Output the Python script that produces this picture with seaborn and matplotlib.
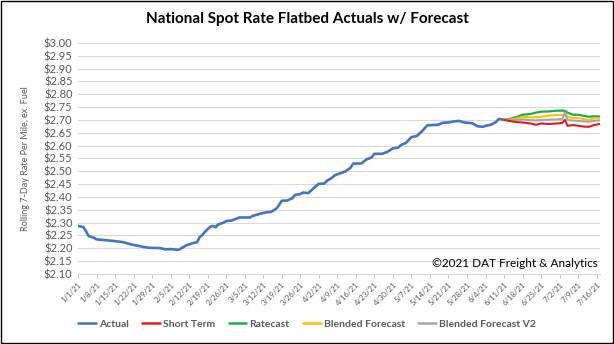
import datetime as dt

import matplotlib
matplotlib.use("Agg")
import matplotlib.pyplot as plt
from matplotlib.lines import Line2D
import pandas as pd
import seaborn as sns

# ---- data (days counted from 1 Jan 2021) ----
actual_days = [0, 2, 3, 4, 6, 7, 10, 14, 17, 19, 22, 25, 27, 31, 33, 35, 38, 39,
               41, 43, 45, 46, 47, 48, 50, 51, 52, 53, 55, 56, 58, 60, 61, 65,
               66, 69, 71, 73, 75, 76, 77, 79, 81, 82, 84, 85, 87, 88, 90, 91,
               93, 94, 96, 97, 99, 101, 103, 104, 107, 109, 111, 112, 115, 117,
               119, 121, 122, 124, 126, 128, 130, 132, 134, 136, 138, 140, 142,
               144, 146, 149, 151, 153, 154, 156, 158, 159, 161]
actual = [2.287, 2.283, 2.267, 2.248, 2.241, 2.235, 2.232, 2.228, 2.224, 2.218,
          2.211, 2.205, 2.202, 2.201, 2.196, 2.197, 2.194, 2.200, 2.212, 2.219,
          2.224, 2.244, 2.252, 2.265, 2.284, 2.287, 2.282, 2.293, 2.300, 2.306,
          2.308, 2.316, 2.320, 2.320, 2.326, 2.335, 2.340, 2.342, 2.355, 2.369,
          2.385, 2.386, 2.395, 2.408, 2.411, 2.417, 2.415, 2.424, 2.443, 2.451,
          2.452, 2.462, 2.475, 2.484, 2.492, 2.499, 2.514, 2.530, 2.530, 2.546,
          2.554, 2.568, 2.568, 2.576, 2.589, 2.592, 2.602, 2.611, 2.633, 2.637,
          2.656, 2.679, 2.680, 2.681, 2.689, 2.690, 2.694, 2.696, 2.690, 2.687,
          2.675, 2.673, 2.677, 2.681, 2.692, 2.704, 2.700]

forecast_days = [161, 164, 166, 168, 171, 173, 175, 178, 181, 183, 184, 185,
                 187, 189, 191, 193, 195, 197]
short_term = [2.700, 2.694, 2.691, 2.690, 2.686, 2.681, 2.686, 2.684, 2.686,
              2.688, 2.700, 2.677, 2.680, 2.677, 2.674, 2.673, 2.680, 2.684]
ratecast = [2.700, 2.706, 2.712, 2.720, 2.723, 2.728, 2.732, 2.733, 2.736,
            2.736, 2.735, 2.728, 2.720, 2.720, 2.716, 2.712, 2.714, 2.713]
blended = [2.700, 2.702, 2.706, 2.712, 2.710, 2.710, 2.712, 2.717, 2.719,
           2.719, 2.722, 2.712, 2.707, 2.707, 2.703, 2.700, 2.706, 2.707]
blended_v2 = [2.700, 2.698, 2.700, 2.702, 2.699, 2.698, 2.699, 2.701, 2.702,
              2.703, 2.729, 2.700, 2.697, 2.696, 2.694, 2.693, 2.696, 2.698]

series_names = ["Actual", "Short Term", "Ratecast", "Blended Forecast",
                "Blended Forecast V2"]
series_colors = ["#4472C4", "#E8171F", "#1DAA4B", "#FFC000", "#A5A5A5"]
y_ticks = [round(2.10 + 0.05 * i, 2) for i in range(19)]

start = dt.datetime(2021, 1, 1)


def to_dates(days):
    return [start + dt.timedelta(days=d) for d in days]


frames = [pd.DataFrame({"date": to_dates(actual_days), "rate": actual,
                        "series": "Actual"})]
for name, vals in zip(series_names[1:], [short_term, ratecast, blended, blended_v2]):
    frames.append(pd.DataFrame({"date": to_dates(forecast_days), "rate": vals,
                                "series": name}))
df = pd.concat(frames, ignore_index=True)

# ---- figure ----
sns.set_theme(style="white")
plt.rcParams["font.family"] = ["Lato", "DejaVu Sans"]

fig = plt.figure(figsize=(6.14, 3.44), dpi=100)
ax = fig.add_axes([0.127, 0.2035, 0.850, 0.672])

draw_order = ["Actual", "Ratecast", "Blended Forecast", "Blended Forecast V2",
              "Short Term"]
palette = dict(zip(series_names, series_colors))
widths = {"Actual": 1.9, "Short Term": 1.5, "Ratecast": 1.6,
          "Blended Forecast": 1.5, "Blended Forecast V2": 1.5}
for name in draw_order:
    sub = df[df["series"] == name]
    sns.lineplot(data=sub, x="date", y="rate", ax=ax, color=palette[name],
                 linewidth=widths[name], legend=False, estimator=None, sort=False)

ax.set_ylim(2.10, 3.00)
ax.set_xlim(start, start + dt.timedelta(days=197.2))
ax.set_yticks(y_ticks)
ax.set_yticklabels([f"${v:.2f}" for v in y_ticks], fontsize=8, color="#595959")
ax.yaxis.grid(True, color="#D9D9D9", linewidth=0.8)
ax.xaxis.grid(False)
ax.set_axisbelow(True)
for side in ["top", "right", "left"]:
    ax.spines[side].set_visible(False)
ax.spines["bottom"].set_color("#D9D9D9")
ax.spines["bottom"].set_linewidth(0.8)
ax.tick_params(axis="y", length=0, pad=4)

week_ticks = [start + dt.timedelta(days=7 * i) for i in range(29)]
ax.set_xticks(week_ticks)
ax.set_xticklabels([f"{d.month}/{d.day}/{d.strftime('%y')}" for d in week_ticks],
                   rotation=45, ha="right", rotation_mode="anchor",
                   fontsize=5.6, color="#595959")
ax.tick_params(axis="x", length=3, width=0.6, color="#BFBFBF", bottom=True,
               pad=2)

ax.set_xlabel("")
ax.set_ylabel("Rolling 7-Day Rate Per Mile, ex. Fuel", fontsize=6.5,
              color="#595959", labelpad=10)

ax.text(0.995, 0.02, "\u00a92021 DAT Freight & Analytics", transform=ax.transAxes,
        ha="right", va="bottom", fontsize=8.5, color="#000000")

fig.text(0.5, 0.945, "National Spot Rate Flatbed Actuals w/ Forecast",
         ha="center", va="center", fontsize=11, fontweight="bold", color="#000000")

handles = [Line2D([0], [0], color=c, linewidth=1.8) for c in series_colors]
leg = fig.legend(handles, series_names, loc="center", bbox_to_anchor=(0.5, 0.057),
                 ncol=5, frameon=False, fontsize=7.5, handlelength=1.7,
                 handletextpad=0.3, columnspacing=1.3)
for t in leg.get_texts():
    t.set_color("#595959")
    t.set_fontweight("bold")

# outer border
fig.patches.append(plt.Rectangle((0.001, 0.002), 0.997, 0.995, transform=fig.transFigure,
                                 fill=False, edgecolor="black", linewidth=1.0))

fig.savefig("out.png", dpi=100)
